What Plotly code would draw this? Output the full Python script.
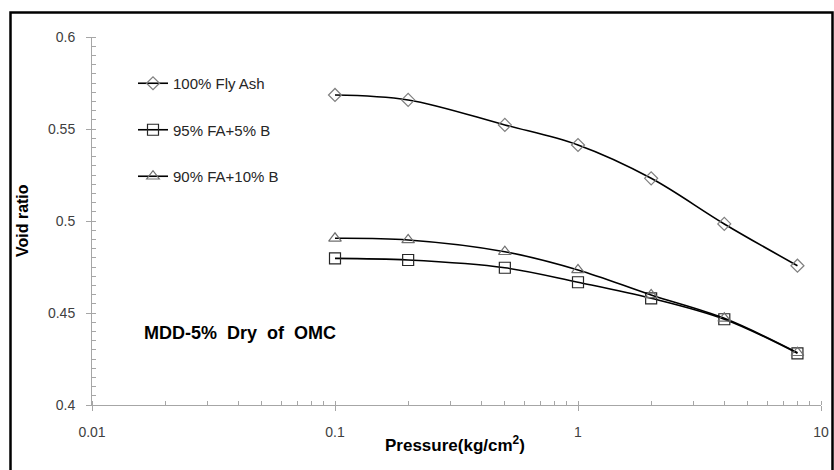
import plotly.graph_objects as go

pressure = [0.1, 0.2, 0.5, 1, 2, 4, 8]
fa100 = [0.5685, 0.5658, 0.5522, 0.5413, 0.5232, 0.4984, 0.4757]
fa95 = [0.4797, 0.4788, 0.4746, 0.4667, 0.4580, 0.4466, 0.4281]
fa90 = [0.4906, 0.4897, 0.4833, 0.4734, 0.4598, 0.4471, 0.4284]

names = ["100% Fly Ash", "95% FA+5% B", "90% FA+10% B"]
series = [fa100, fa95, fa90]
symbols = ["diamond-open", "square-open", "triangle-up-open"]
mcolors = ["#7f7f7f", "#262626", "#6f6f6f"]
msizes = [10, 11, 11]

W, H = 834, 470
L, R, T, B = 92, 13, 37, 65
pw, ph = W - L - R, H - T - B

fig = go.Figure()
for i, (nm, ys) in enumerate(zip(names, series)):
    fig.add_trace(go.Scatter(
        x=pressure, y=ys, name=nm, mode="lines+markers",
        line=dict(color="black", width=1.6, shape="spline"),
        marker=dict(symbol=symbols[i], size=msizes[i], color=mcolors[i],
                    line=dict(color=mcolors[i], width=1.2)),
        legendgroup=f"g{i}",
    ))

axis_col = "#a6a6a6"
tick_font = dict(family="Liberation Sans, Arial, sans-serif", size=14, color="#404040")

fig.update_xaxes(
    type="log", range=[-2, 1], dtick=1, automargin=False,
    showline=True, linecolor=axis_col, linewidth=1,
    ticks="outside", ticklen=5, tickcolor=axis_col,
    minor=dict(ticks="inside", ticklen=4, tickcolor=axis_col, dtick="D1", showgrid=False),
    showgrid=False, zeroline=False, tickfont=tick_font,
    ticklabelstandoff=9,
)
fig.update_yaxes(
    range=[0.4, 0.6], dtick=0.05, automargin=False,
    showline=True, linecolor=axis_col, linewidth=1,
    ticks="outside", ticklen=5, tickcolor=axis_col,
    minor=dict(ticks="inside", ticklen=4, tickcolor=axis_col, dtick=0.005, showgrid=False),
    showgrid=False, zeroline=False, tickfont=tick_font,
    ticklabelstandoff=8,
)

def px_x(p):
    return (p - L) / pw

def px_y(p):
    return (H - B - p) / ph

fig.add_shape(type="rect", xref="paper", yref="paper",
              x0=px_x(10.5), x1=px_x(832.5), y0=px_y(480), y1=px_y(12.5),
              line=dict(color="black", width=2.5), fillcolor="rgba(0,0,0,0)")

bold = "Liberation Sans, Arial, sans-serif"
fig.add_annotation(text="<b>MDD-5%&nbsp;&nbsp;Dry&nbsp;&nbsp;of&nbsp;&nbsp;OMC</b>", xref="paper", yref="paper",
                   x=px_x(142), y=px_y(333), xanchor="left", yanchor="middle",
                   showarrow=False, font=dict(family=bold, size=18, color="black"))
fig.add_annotation(text="<b>Pressure(kg/cm<sup>2</sup>)</b>", xref="paper", yref="paper",
                   x=px_x(455), y=px_y(444), xanchor="center", yanchor="middle",
                   showarrow=False, font=dict(family=bold, size=17, color="black"))
fig.add_annotation(text="<b>Void ratio</b>", xref="paper", yref="paper",
                   x=px_x(22), y=px_y(221), xanchor="center", yanchor="middle",
                   textangle=-90,
                   showarrow=False, font=dict(family=bold, size=16, color="black"))

fig.update_layout(
    width=W, height=H,
    margin=dict(l=L, r=R, t=T, b=B),
    paper_bgcolor="white", plot_bgcolor="white",
    showlegend=True,
    legend=dict(x=px_x(133), y=px_y(67), xanchor="left", yanchor="top",
                bgcolor="rgba(0,0,0,0)", tracegroupgap=24,
                font=dict(family="Liberation Sans, Arial, sans-serif", size=15, color="#262626")),
)

fig.write_html("out.html")
